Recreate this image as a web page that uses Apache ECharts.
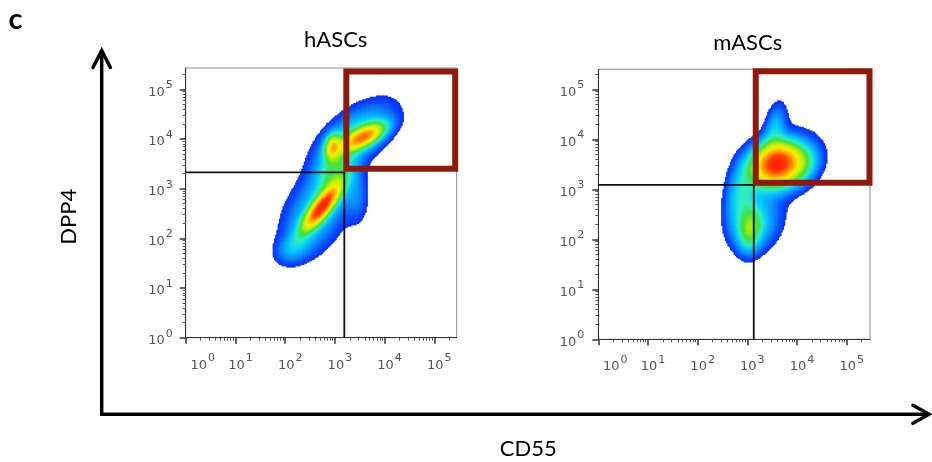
<!DOCTYPE html>
<html><head><meta charset="utf-8">
<script src="https://cdn.jsdelivr.net/npm/echarts@6/dist/echarts.min.js"></script>
<style>html,body{margin:0;padding:0;background:#fff}#c{width:932px;height:462px}</style>
</head><body><div id="c"></div>
<script>
// ---- axis ticks (log10 units) ----
const decadeTicks = [0, 1, 2, 3, 4, 5];
const minorMultipliers = [2, 3, 4, 5, 6, 7, 8, 9];

// ---- hASCs density populations (log10 CD55, log10 DPP4) ----
const hascsCenterX   = [2.74, 3.58, 2.96, 3.42, 2.60, 3.45, 2.15, 3.00];
const hascsCenterY   = [2.64, 4.05, 3.85, 4.08, 2.50, 2.85, 1.80, 3.30];
const hascsSpreadMaj = [0.36, 0.30, 0.16, 0.62, 0.62, 0.40, 0.25, 0.35];
const hascsSpreadMin = [0.11, 0.12, 0.10, 0.32, 0.38, 0.16, 0.18, 0.22];
const hascsAngle     = [52,   27,   80,   38,   60,   90,   30,   70];
const hascsWeight    = [1.00, 0.75, 0.55, 0.25, 0.22, 0.10, 0.12, 0.25];

// ---- mASCs density populations ----
const mascsCenterX   = [3.60, 3.05, 3.57, 4.15, 2.85, 3.18, 3.62];
const mascsCenterY   = [3.52, 2.20, 4.30, 3.50, 2.90, 2.30, 3.50];
const mascsSpreadMaj = [0.32, 0.30, 0.32, 0.30, 0.45, 0.40, 0.55];
const mascsSpreadMin = [0.26, 0.15, 0.14, 0.22, 0.20, 0.32, 0.40];
const mascsAngle     = [20,   85,   80,   60,   80,   60,   40];
const mascsWeight    = [1.00, 0.25, 0.15, 0.15, 0.18, 0.20, 0.15];

// ---- gates (log10 units) ----
const hascsQuadGate = [3.19, 3.33];               // [CD55, DPP4]
const hascsBoxGate  = [3.23, 3.40, 5.42, 5.36];   // [x1, y1, x2, y2]
const mascsQuadGate = [3.13, 3.09];
const mascsBoxGate  = [3.17, 3.13, 5.46, 5.36];

// ---- axis ranges ----
const hascsRange = [5.45, 5.43];
const mascsRange = [5.47, 5.40];

const STEP = 0.025;
const FLOOR = 0.045;
const LOG_FLOOR = Math.log10(FLOOR);

function densityCells(cx, cy, sa, sb, ang, w, xMax, yMax) {
  const comps = cx.map((_, i) => {
    const t = ang[i] * Math.PI / 180;
    return {x: cx[i], y: cy[i], a: sa[i], b: sb[i], c: Math.cos(t), s: Math.sin(t), w: w[i]};
  });
  const raw = [];
  let max = 0;
  for (let x = STEP / 2; x < xMax; x += STEP) {
    for (let y = STEP / 2; y < yMax; y += STEP) {
      let d = 0;
      for (const k of comps) {
        const dx = x - k.x, dy = y - k.y;
        const u = dx * k.c + dy * k.s, v = -dx * k.s + dy * k.c;
        d += k.w * Math.exp(-0.5 * (u * u / (k.a * k.a) + v * v / (k.b * k.b)));
      }
      if (d > max) max = d;
      raw.push([x, y, d]);
    }
  }
  // third value: log10 of relative density (pseudocolour scale)
  return raw.filter(r => r[2] / max >= FLOOR).map(r => [r[0], r[1], Math.log10(r[2] / max)]);
}

const hascsCells = densityCells(hascsCenterX, hascsCenterY, hascsSpreadMaj, hascsSpreadMin, hascsAngle, hascsWeight, hascsRange[0], hascsRange[1]);
const mascsCells = densityCells(mascsCenterX, mascsCenterY, mascsSpreadMaj, mascsSpreadMin, mascsAngle, mascsWeight, mascsRange[0], mascsRange[1]);

const minorTicks = [];
decadeTicks.forEach(d => minorMultipliers.forEach(m => minorTicks.push(d + Math.log10(m))));

// pseudocolour palette stops
const paletteStops  = [0.00, 0.15, 0.30, 0.42, 0.52, 0.62, 0.72, 0.80, 0.88, 0.95, 1.00];
const paletteColors = ['#0a2cff', '#0a50ff', '#0a90ff', '#00c8ff', '#30f0c0', '#3ce040', '#c0f000', '#f8f000', '#ffa000', '#ff4000', '#ff2000'];
const densityColors = [];
for (let i = 0; i <= 40; i++) {
  const t = i / 40;
  let k = 0;
  while (k < paletteStops.length - 2 && t > paletteStops[k + 1]) k++;
  const f = (t - paletteStops[k]) / (paletteStops[k + 1] - paletteStops[k]);
  densityColors.push(echarts.color.lerp(Math.min(1, Math.max(0, f)), [paletteColors[k], paletteColors[k + 1]]));
}

const tickFont = 'DejaVu Sans';
const labelRich = {
  b:  {fontFamily: tickFont, fontSize: 13, color: '#555', lineHeight: 19, verticalAlign: 'bottom', padding: [0, 0, 0, 10]},
  b0: {fontFamily: tickFont, fontSize: 13, color: '#555', lineHeight: 19, verticalAlign: 'bottom', padding: [0, 0, 0, 34]},
  y:  {fontFamily: tickFont, fontSize: 13, color: '#555', lineHeight: 19, verticalAlign: 'bottom'},
  s:  {fontFamily: tickFont, fontSize: 11, color: '#555', lineHeight: 19, verticalAlign: 'top', padding: [0, 0, 0, 1]}
};
function xLabel(v) { const e = Math.round(v); return (e === 0 ? '{b0|10}' : '{b|10}') + '{s|' + e + '}'; }
function yLabel(v) { return '{y|10}{s|' + Math.round(v) + '}'; }

function xAxes(grid, max) {
  return [
    {gridIndex: grid, type: 'value', min: 0, max: max, position: 'bottom',
     axisLine: {show: true, lineStyle: {color: '#333', width: 1}},
     axisTick: {show: true, customValues: decadeTicks, length: 6, lineStyle: {color: '#333', width: 1.5}},
     axisLabel: {show: true, customValues: decadeTicks, margin: 15, formatter: xLabel, rich: labelRich},
     splitLine: {show: false}},
    {gridIndex: grid, type: 'value', min: 0, max: max, position: 'bottom',
     axisLine: {show: false},
     axisTick: {show: true, customValues: minorTicks.filter(t => t < max), length: 3, lineStyle: {color: '#555', width: 1}},
     axisLabel: {show: false}, splitLine: {show: false}}
  ];
}
function yAxes(grid, max, margin) {
  return [
    {gridIndex: grid, type: 'value', min: 0, max: max, position: 'left',
     axisLine: {show: true, lineStyle: {color: '#333', width: 1}},
     axisTick: {show: true, customValues: decadeTicks, length: 6, lineStyle: {color: '#333', width: 1.5}},
     axisLabel: {show: true, customValues: decadeTicks, margin: margin, formatter: yLabel, rich: labelRich, align: 'right'},
     splitLine: {show: false}},
    {gridIndex: grid, type: 'value', min: 0, max: max, position: 'left',
     axisLine: {show: false},
     axisTick: {show: true, customValues: minorTicks.filter(t => t < max), length: 3, lineStyle: {color: '#555', width: 1}},
     axisLabel: {show: false}, splitLine: {show: false}}
  ];
}

const HALF = STEP / 2;
function heatRender(params, api) {
  const x = api.value(0), y = api.value(1);
  const a = api.coord([x - HALF, y + HALF]);
  const b = api.coord([x + HALF, y - HALF]);
  return {type: 'rect', shape: {x: a[0], y: a[1], width: b[0] - a[0] + 0.6, height: b[1] - a[1] + 0.6},
          style: {fill: api.visual('color')}};
}
function quadRender(params, api) {
  const qx = api.value(0), qy = api.value(1);
  return {type: 'polyline', shape: {points: [api.coord([0, qy]), api.coord([qx, qy]), api.coord([qx, 0])]},
          style: {stroke: '#111', lineWidth: 1.8, fill: null}};
}
function boxRender(params, api) {
  const p1 = api.coord([api.value(0), api.value(3)]);
  const p2 = api.coord([api.value(2), api.value(1)]);
  return {type: 'rect', shape: {x: p1[0], y: p1[1], width: p2[0] - p1[0], height: p2[1] - p1[1]},
          style: {stroke: '#8e1a0e', lineWidth: 6, fill: null, lineJoin: 'miter'}};
}

const chart = echarts.init(document.getElementById('c'), null, {renderer: 'canvas'});
chart.setOption({
  animation: false,
  backgroundColor: '#fff',
  grid: [
    {left: 185.7, top: 68, width: 271, height: 269.7, show: true, borderColor: '#8c8c8c', borderWidth: 1, containLabel: false},
    {left: 598.3, top: 69.3, width: 271.7, height: 270, show: true, borderColor: '#8c8c8c', borderWidth: 1, containLabel: false}
  ],
  xAxis: [...xAxes(0, hascsRange[0]), ...xAxes(1, mascsRange[0])],
  yAxis: [...yAxes(0, hascsRange[1], 13), ...yAxes(1, mascsRange[1], 14)],
  visualMap: {show: false, type: 'continuous', seriesIndex: [0, 3], dimension: 2, min: LOG_FLOOR, max: 0,
              inRange: {color: densityColors}},
  series: [
    {type: 'custom', xAxisIndex: 0, yAxisIndex: 0, data: hascsCells, renderItem: heatRender, progressive: 0, silent: true},
    {type: 'custom', xAxisIndex: 0, yAxisIndex: 0, data: [hascsQuadGate], renderItem: quadRender, silent: true, z: 3},
    {type: 'custom', xAxisIndex: 0, yAxisIndex: 0, data: [hascsBoxGate], renderItem: boxRender, clip: false, silent: true, z: 4},
    {type: 'custom', xAxisIndex: 2, yAxisIndex: 2, data: mascsCells, renderItem: heatRender, progressive: 0, silent: true},
    {type: 'custom', xAxisIndex: 2, yAxisIndex: 2, data: [mascsQuadGate], renderItem: quadRender, silent: true, z: 3},
    {type: 'custom', xAxisIndex: 2, yAxisIndex: 2, data: [mascsBoxGate], renderItem: boxRender, clip: false, silent: true, z: 4}
  ],
  graphic: [
    {type: 'text', x: 15.5, y: 20, style: {text: 'c', fontFamily: 'Lato', fontWeight: 'bold', fontSize: 29, fill: '#000', align: 'center', verticalAlign: 'middle'}},
    {type: 'text', x: 335.7, y: 40, style: {text: 'hASCs', fontFamily: 'Lato', fontSize: 22, fill: '#000', align: 'center', verticalAlign: 'middle'}},
    {type: 'text', x: 747.7, y: 42.7, style: {text: 'mASCs', fontFamily: 'Lato', fontSize: 22, fill: '#000', align: 'center', verticalAlign: 'middle'}},
    {type: 'text', x: 528.3, y: 449.3, style: {text: 'CD55', fontFamily: 'Lato', fontSize: 22, fill: '#000', align: 'center', verticalAlign: 'middle'}},
    {type: 'text', x: 69.3, y: 216.7, rotation: Math.PI / 2, style: {text: 'DPP4', fontFamily: 'Lato', fontSize: 22, fill: '#000', align: 'center', verticalAlign: 'middle'}},
    {type: 'polyline', shape: {points: [[101.7, 415.8], [101.7, 50]]}, style: {stroke: '#000', lineWidth: 3.5, fill: null}},
    {type: 'polyline', shape: {points: [[93, 67.5], [101.7, 50.5], [110.4, 67.5]]}, style: {stroke: '#000', lineWidth: 3.5, fill: null, lineJoin: 'miter', lineCap: 'round'}},
    {type: 'polyline', shape: {points: [[100, 414.3], [928, 414.3]]}, style: {stroke: '#000', lineWidth: 3.5, fill: null}},
    {type: 'polyline', shape: {points: [[913, 405.3], [929, 414.3], [913, 423.3]]}, style: {stroke: '#000', lineWidth: 3.5, fill: null, lineJoin: 'miter', lineCap: 'round'}}
  ]
});
</script>
</body></html>
